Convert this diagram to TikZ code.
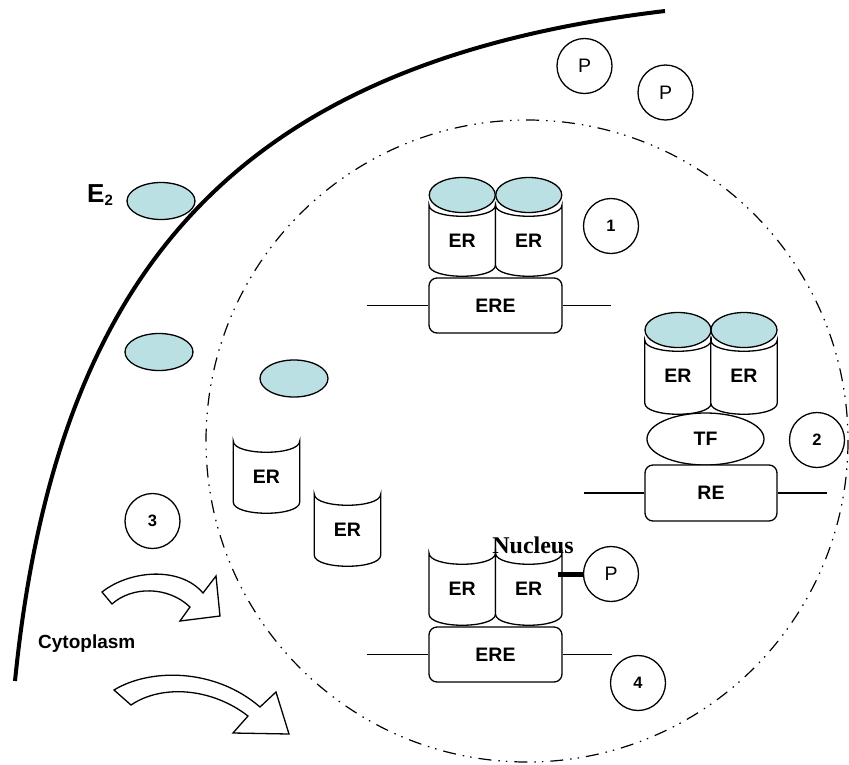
\documentclass[tikz,border=0pt]{standalone}
\usepackage{fontspec}
\setmainfont{Liberation Sans}
\newfontfamily\serifbold{Liberation Serif}
\usetikzlibrary{shapes.geometric}
\definecolor{ligand}{RGB}{187,224,227}
\newcommand\ercyl[4]{%
  \draw[cylbody] (#2-33.25,#3) -- (#2-33.25,#3+#4)
    .. controls (#2-33.25,#3+#4+15) and (#2+33.25,#3+#4+15) .. (#2+33.25,#3+#4)
    -- (#2+33.25,#3)
    .. controls (#2+33.25,#3+15) and (#2-33.25,#3+15) .. (#2-33.25,#3) -- cycle;
  \node[lbl] (#1) at (#2,#3+36) {ER};}
\begin{document}
\begin{tikzpicture}[x=1pt,y=-1pt,
  cylbody/.style={draw, line width=1.3pt, fill=white},
  ligcap/.style={ellipse, draw, line width=1.3pt, fill=ligand, minimum width=66pt, minimum height=35pt, inner sep=0pt},
  hormone/.style={ellipse, draw, line width=1.3pt, fill=ligand, minimum width=68pt, minimum height=37pt, inner sep=0pt},
  lbl/.style={font=\fontsize{19.5}{19.5}\selectfont\bfseries, inner sep=0pt},
  dnabox/.style={draw, line width=1.3pt, rounded corners=8pt, fill=white, minimum width=133pt, minimum height=55pt, font=\fontsize{19.5}{19.5}\selectfont\bfseries},
  dnaline/.style={line width=1.3pt},
  numc/.style={circle, draw, line width=1.3pt, minimum size=55pt, inner sep=0pt, font=\fontsize{16.5}{16.5}\selectfont\bfseries},
  pc/.style={circle, draw, line width=1.3pt, minimum size=55pt, inner sep=0pt, font=\fontsize{19.5}{19.5}\selectfont},
  membrane/.style={line width=4pt},
  nucl/.style={line width=1.2pt, dash pattern=on 13pt off 7pt on 1.5pt off 6pt on 1.5pt off 7pt},
  blockarrow/.style={draw, line width=1.3pt, fill=white, line join=miter},
  tfshape/.style={ellipse, draw, line width=1.3pt, fill=white, minimum width=117pt, minimum height=52pt, inner sep=0pt, font=\fontsize{19.5}{19.5}\selectfont\bfseries},
]
\useasboundingbox (0,0) rectangle (849,764);

% cell membrane and nucleus
\draw[membrane] (665,11) .. controls (245,61) and (57,261) .. (15,681);
\draw[nucl] (527,441) circle[radius=321];

% phosphates outside
\node[pc] (p1) at (584.5,66) {P};
\node[pc] (p2) at (665.5,92.5) {P};

% E2 hormones
\node[anchor=base west, inner sep=0pt, font=\fontsize{26}{26}\selectfont\bfseries] (e2lbl) at (87,202) {E\raisebox{-3pt}{\fontsize{15}{15}\selectfont 2}};
\node[hormone] (h1) at (161,201) {};
\node[hormone] (h2) at (159,352) {};
\node[hormone] (h3) at (294,378.5) {};

% complex 1
\ercyl{er1a}{462.25}{205}{60}
\ercyl{er1b}{528.75}{205}{60}
\node[ligcap] (c1a) at (462.25,195) {};
\node[ligcap] (c1b) at (528.75,195) {};
\node[dnabox] (ere1) at (495.5,305.5) {ERE};
\coordinate (l1) at (367,305.5);
\coordinate (r1) at (611,305.5);
\draw[dnaline] (l1) -- (ere1.west);
\draw[dnaline] (ere1.east) -- (r1);
\node[numc] (n1) at (611,226) {1};

% complex 2
\ercyl{er2a}{678}{340}{63}
\ercyl{er2b}{744}{340}{63}
\node[ligcap] (c2a) at (678,330) {};
\node[ligcap] (c2b) at (744,330) {};
\node[tfshape] (tf) at (705.5,439) {TF};
\node[dnabox, minimum width=132pt, minimum height=56pt] (re) at (711,493) {RE};
\coordinate (l2) at (584,493);
\coordinate (r2) at (827,493);
\draw[dnaline] (l2) -- (re.west);
\draw[dnaline] (re.east) -- (r2);
\node[numc] (n2) at (817,440) {2};

% free receptors
\ercyl{er3a}{266.5}{441}{61}
\ercyl{er3b}{347.5}{494}{61}
\node[numc] (n3) at (152.5,521) {3};

% complex 4
\ercyl{er4a}{462.25}{553}{61}
\ercyl{er4b}{528.75}{553}{61}
\node[dnabox] (ere4) at (495.5,654.5) {ERE};
\coordinate (l4) at (367,654.5);
\coordinate (r4) at (612,654.5);
\draw[dnaline] (l4) -- (ere4.west);
\draw[dnaline] (ere4.east) -- (r4);
\node[pc] (p3) at (611,574) {P};
\coordinate (pb) at (558,574);
\draw[line width=5pt] (pb) -- (p3.west);
\node[numc] (n4) at (638,683) {4};
\node[anchor=base, inner sep=0pt, font=\serifbold\bfseries\fontsize{24}{24}\selectfont] (nuc) at (533,553) {Nucleus};

% cytoplasm label and arrows
\node[anchor=base west, inner sep=0pt, font=\fontsize{19}{19}\selectfont\bfseries] (cyto) at (38,648) {Cytoplasm};
\draw[blockarrow] (102,592) .. controls (130,570) and (180,566) .. (203,593)
  -- (216,576) -- (220,616) -- (180,621) -- (190,607)
  .. controls (168,586) and (132,586) .. (112,604) -- cycle;
\draw[blockarrow] (114,690) .. controls (150,668) and (215,668) .. (260,707)
  -- (276,692) -- (289,734) -- (233,733) -- (248,716)
  .. controls (212,688) and (162,684) .. (131,705) -- cycle;
\end{tikzpicture}
\end{document}
